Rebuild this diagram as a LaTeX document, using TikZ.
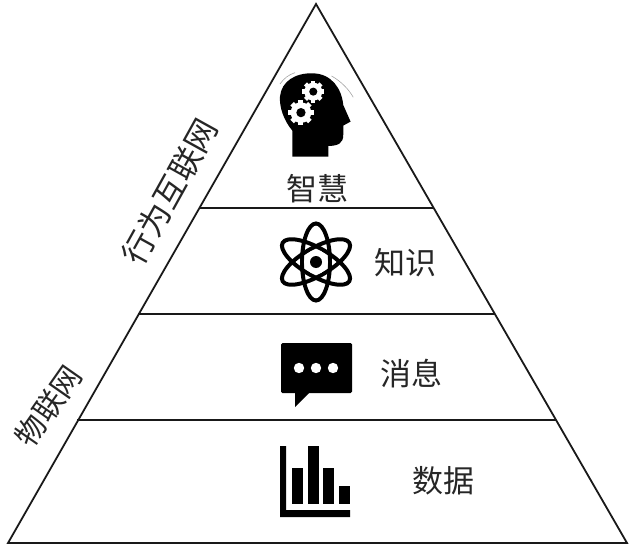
\documentclass[tikz,border=0pt]{standalone}
\usepackage{fontspec}
\setmainfont{Noto Sans CJK SC}[Scale=1]
\tikzset{
  edge/.style={draw=black!90,line width=1.8pt,line join=miter},
  label/.style={font=\fontsize{31}{33}\selectfont,text=black!85,inner sep=0pt},
  side/.style={label,font=\fontsize{32}{34}\selectfont},
  sideshort/.style={label,font=\fontsize{30}{32}\selectfont},
  icon/.style={fill=black,draw=none},
  hole/.style={fill=white,draw=none},
  hair/.style={draw=black!35,line width=0.6pt},
  atomring/.style={draw=black,line width=4pt,fill=none}
}
\newcommand{\cog}[3]{% x, y, r
  \fill[hole] (#1,#2) circle (#3);
  \foreach \a in {0,45,...,315}{
    \fill[hole,shift={(#1,#2)},rotate=\a] (-0.24*#3,0) rectangle (0.24*#3,1.22*#3);
  }
  \fill[icon] (#1,#2) circle (0.45*#3);
}
\begin{document}
\begin{tikzpicture}[x=1pt,y=-1pt]
\useasboundingbox (0,0) rectangle (630,546);
% pyramid
\coordinate (apex) at (316,4);
\coordinate (bl) at (8,543);
\coordinate (br) at (627,543);
\coordinate (l1) at (200,208);
\coordinate (r1) at (433.5,208);
\coordinate (l2) at (138,314);
\coordinate (r2) at (495,314);
\coordinate (l3) at (77,420);
\coordinate (r3) at (556,420);
\draw[edge] (apex) -- (bl) -- (br) -- cycle;
\draw[edge] (l1) -- (r1);
\draw[edge] (l2) -- (r2);
\draw[edge] (l3) -- (r3);
% labels
\node[label] (wisdom) at (317,189) {智慧};
\node[label] (knowledge) at (405.5,263) {知识};
\node[label] (message) at (411,374) {消息};
\node[label] (data) at (443,481) {数据};
\node[side,rotate=61] (behavior) at (170,191.5) {行为互联网};
\node[sideshort,rotate=55] (iot) at (48.5,406) {物联网};
% head icon
\begin{scope}[shift={(260,60)},x=0.333pt,y=-0.333pt]
  \draw[hair] (60,72) .. controls (72,55) and (85,45) .. (105,38);
  \draw[hair] (215,48) .. controls (245,65) and (268,90) .. (280,112);
  \path[icon] (97,290) -- (97,212) .. controls (70,180) and (58,140) .. (60,110)
    .. controls (64,65) and (105,38) .. (160,40)
    .. controls (215,42) and (245,85) .. (250,135)
    -- (272,185) -- (250,197) -- (250,225)
    .. controls (250,250) and (235,258) .. (205,258)
    -- (205,290) -- cycle;
  \cog{160}{95}{27}
  \cog{123}{158}{31}
\end{scope}
% atom icon
\begin{scope}[shift={(316,262)}]
  \draw[atomring] (0,0) ellipse (14 and 38.5);
  \draw[atomring,rotate=60] (0,0) ellipse (14 and 38.5);
  \draw[atomring,rotate=-60] (0,0) ellipse (14 and 38.5);
  \fill[hole] (0,0) circle (12);
  \fill[icon] (0,0) circle (6);
\end{scope}
% speech bubble icon
\fill[icon,rounded corners=1.5pt] (281,343) rectangle (352,393);
\fill[icon] (295,392) -- (295,407) -- (310,392) -- cycle;
\fill[hole] (299,368) circle (5.2);
\fill[hole] (316,368) circle (5.2);
\fill[hole] (333,368) circle (5.2);
% bar chart icon
\fill[icon] (280,446) -- (286,446) -- (286,510) -- (350,510) -- (350,517) -- (280,517) -- cycle;
\fill[icon] (292,468) rectangle (303,504);
\fill[icon] (308,446) rectangle (319,504);
\fill[icon] (323,468) rectangle (334,504);
\fill[icon] (339,486) rectangle (350,504);
\end{tikzpicture}
\end{document}
